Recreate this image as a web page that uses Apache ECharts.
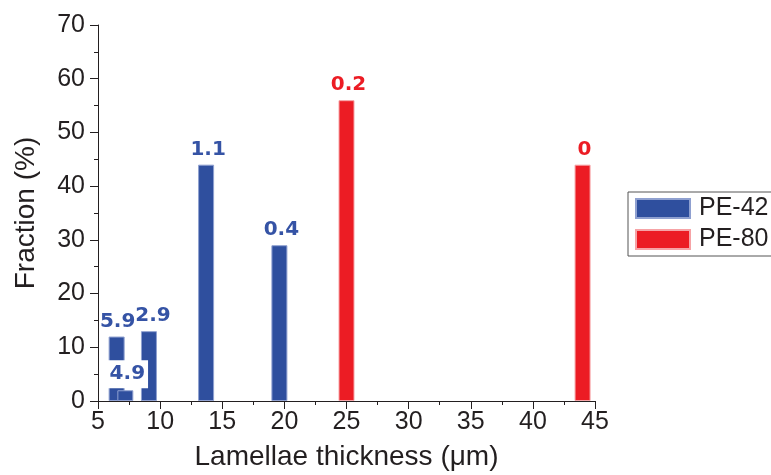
<!DOCTYPE html>
<html>
<head>
<meta charset="utf-8">
<script src="https://cdn.jsdelivr.net/npm/echarts@6/dist/echarts.min.js"></script>
<style>html,body{margin:0;padding:0;background:#fff}#c{width:771px;height:475px}</style>
</head>
<body>
<div id="c"></div>
<script>
const pe42X = [6.5, 7.2, 9.1, 13.7, 19.6];
const pe42Y = [12, 2, 13, 44, 29];
const pe42Labels = ['5.9', '4.9', '2.9', '1.1', '0.4'];
const pe80X = [25.0, 44.0];
const pe80Y = [56, 44];
const pe80Labels = ['0.2', '0'];
const xTicks = [5, 10, 15, 20, 25, 30, 35, 40, 45];
const yTicks = [0, 10, 20, 30, 40, 50, 60, 70];

const BLUE = '#2F4F9E', RED = '#EC1C24', INK = '#231f20';
function mk(xs, ys, labels, special) {
  return xs.map((x, i) => {
    const d = { value: [x, ys[i]], labelText: labels[i] };
    if (special && special[i]) d.label = special[i];
    return d;
  });
}
const chart = echarts.init(document.getElementById('c'), null, { renderer: 'canvas' });
const labelBase = { show: true, position: 'top', distance: 5, fontFamily: 'DejaVu Sans', fontWeight: 'bold', fontSize: 20,
  formatter: p => p.data.labelText, offset: [2, 0] };
chart.setOption({
  animation: false,
  backgroundColor: '#fff',
  grid: { left: 98, right: 176, top: 25, bottom: 74, containLabel: false, outerBoundsMode: 'none' },
  legend: {
    left: 628, top: 192, orient: 'vertical', icon: 'rect', itemWidth: 54, itemHeight: 19, itemGap: 6,
    padding: [4, 7], borderColor: '#555', borderWidth: 1,
    textStyle: { fontFamily: 'Liberation Sans, Arial', fontSize: 25, color: INK, padding: [0, 0, 0, 4] },
    data: ['PE-42', 'PE-80']
  },
  xAxis: {
    type: 'value', min: xTicks[0], max: xTicks[xTicks.length - 1], interval: 5,
    name: 'Lamellae thickness (μm)', nameLocation: 'middle', nameGap: 42,
    nameTextStyle: { fontFamily: 'Liberation Sans, Arial', fontSize: 28, color: INK },
    axisLine: { show: true, lineStyle: { color: INK, width: 1 } },
    axisTick: { show: true, inside: false, length: 8, lineStyle: { color: INK } },
    minorTick: { show: true, splitNumber: 2, length: 4, lineStyle: { color: INK } },
    axisLabel: { fontFamily: 'Liberation Sans, Arial', fontSize: 25, color: INK, margin: 9 },
    splitLine: { show: false }
  },
  yAxis: {
    type: 'value', min: yTicks[0], max: yTicks[yTicks.length - 1], interval: 10,
    name: 'Fraction (%)', nameLocation: 'middle', nameGap: 58,
    nameTextStyle: { fontFamily: 'Liberation Sans, Arial', fontSize: 28, color: INK },
    axisLine: { show: true, lineStyle: { color: INK, width: 1 } },
    axisTick: { show: true, inside: false, length: 8, lineStyle: { color: INK } },
    minorTick: { show: true, splitNumber: 2, length: 4, lineStyle: { color: INK } },
    axisLabel: { fontFamily: 'Liberation Sans, Arial', fontSize: 25, color: INK, margin: 13 },
    splitLine: { show: false }
  },
  series: [
    {
      name: 'PE-42', type: 'bar', barWidth: 16, barGap: '-100%',
      itemStyle: { color: BLUE, borderColor: '#8FA0D0', borderWidth: 1 },
      label: Object.assign({}, labelBase, { color: '#3553A5' }),
      data: mk(pe42X, pe42Y, pe42Labels, {
        0: { offset: [1, 0] },
        1: { backgroundColor: '#fff', padding: [4, 3], distance: 2 },
        2: { offset: [4, 0] }
      })
    },
    {
      name: 'PE-80', type: 'bar', barWidth: 16, barGap: '-100%',
      itemStyle: { color: RED, borderColor: '#F6A3A6', borderWidth: 1 },
      label: Object.assign({}, labelBase, { color: RED }),
      data: mk(pe80X, pe80Y, pe80Labels)
    }
  ]
});
</script>
</body>
</html>
